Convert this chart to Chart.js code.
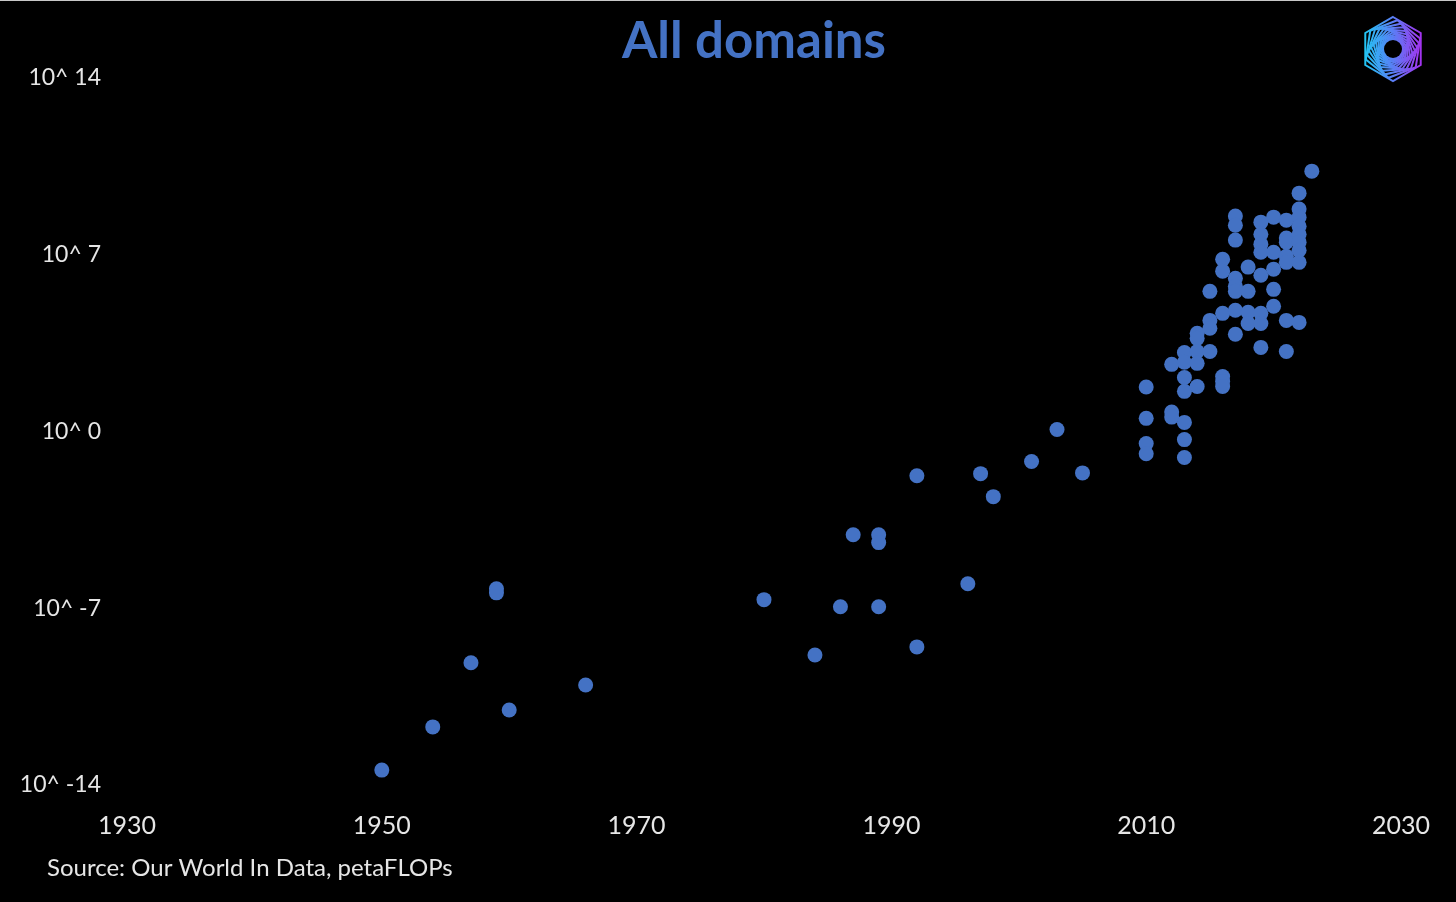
<!DOCTYPE html>
<html>
<head>
<meta charset="utf-8">
<script src="https://cdn.jsdelivr.net/npm/chart.js@4/dist/chart.umd.min.js"></script>
<style>
  html, body { margin: 0; padding: 0; background: #000; }
  #wrap { position: relative; width: 1456px; height: 902px; border-top: 1px solid #c8c8c8; box-sizing: border-box; }
  canvas { display: block; }
</style>
</head>
<body>
<div id="wrap"><canvas id="c" width="1456" height="901"></canvas></div>
<script>
// ---- data (year, log10 of petaFLOPs) ----
const years = [
  1950, 1954, 1957, 1959, 1959, 1960, 1966, 1980, 1984, 1986, 1987, 1989, 1989, 1989,
  1992, 1992, 1996, 1997, 1998, 2001, 2003, 2005,
  2010, 2010, 2010, 2010,
  2012, 2012, 2012,
  2013, 2013, 2013, 2013, 2013, 2013, 2013,
  2014, 2014, 2014, 2014, 2014,
  2015, 2015, 2015, 2015,
  2016, 2016, 2016, 2016, 2016, 2016,
  2017, 2017, 2017, 2017, 2017, 2017, 2017, 2017,
  2018, 2018, 2018, 2018,
  2019, 2019, 2019, 2019, 2019, 2019, 2019, 2019,
  2020, 2020, 2020, 2020, 2020,
  2021, 2021, 2021, 2021, 2021, 2021, 2021,
  2022, 2022, 2022, 2022, 2022, 2022, 2022, 2022, 2022,
  2023
];
const log10PetaFlops = [
  -13.41, -11.70, -9.16, -6.23, -6.39, -11.03, -10.04, -6.66, -8.85, -6.94, -4.09, -4.09, -4.40, -6.94,
  -1.75, -8.53, -6.03, -1.67, -2.58, -1.19, 0.08, -1.64,
  1.76, 0.52, -0.48, -0.88,
  2.66, 0.77, 0.57,
  3.13, 2.74, 2.14, 1.59, 0.36, -0.32, -1.03,
  3.89, 3.69, 3.17, 2.70, 1.78,
  5.55, 4.40, 4.09, 3.17,
  6.82, 6.35, 4.68, 2.18, 1.98, 1.78,
  8.53, 8.17, 7.58, 6.07, 5.75, 5.55, 4.80, 3.85,
  6.51, 5.55, 4.72, 4.28,
  8.29, 7.81, 7.42, 7.10, 6.19, 4.68, 4.28, 3.33,
  8.49, 7.10, 6.43, 5.63, 4.96,
  8.37, 7.66, 7.50, 6.94, 6.70, 4.40, 3.17,
  9.44, 8.81, 8.49, 8.13, 7.81, 7.50, 7.18, 6.70, 4.32,
  10.31
];
const xTickValues = [1930, 1950, 1970, 1990, 2010, 2030];
const yTickValues = [-14, -7, 0, 7, 14];
const yTickLabels = ['10^ -14', '10^ -7', '10^ 0', '10^ 7', '10^ 14'];
const titleText = 'All domains';
const sourceText = 'Source: Our World In Data, petaFLOPs';

const points = years.map((yr, i) => ({ x: yr, y: log10PetaFlops[i] }));

const FONT = 'Lato, "Open Sans", "Liberation Sans", sans-serif';
const TEXT = '#e6e6e6';
const BLUE = '#4472C4';

const decor = {
  id: 'decor',
  afterDraw(chart) {
    const ctx = chart.ctx;
    ctx.save();
    // title
    ctx.fillStyle = BLUE;
    ctx.font = 'bold 51px ' + FONT;
    ctx.textAlign = 'center';
    ctx.textBaseline = 'middle';
    ctx.fillText(titleText, 754, 41);
    // source
    ctx.fillStyle = TEXT;
    ctx.font = '24px ' + FONT;
    ctx.textAlign = 'left';
    ctx.fillText(sourceText, 47, 867);
    // logo
    const cx = 1393, cy = 48;
    const g = ctx.createLinearGradient(cx - 30, cy, cx + 30, cy);
    g.addColorStop(0, '#1fc9f3');
    g.addColorStop(0.5, '#5a7ef5');
    g.addColorStop(1, '#a82ef0');
    ctx.strokeStyle = g;
    ctx.lineWidth = 2;
    let R = 32;
    for (let k = 0; k < 14; k++) {
      const rot = k * 0.15;
      ctx.beginPath();
      for (let j = 0; j < 6; j++) {
        const a = -Math.PI / 2 + j * Math.PI / 3 + rot;
        const px = cx + R * Math.cos(a), py = cy + R * Math.sin(a);
        if (j === 0) ctx.moveTo(px, py); else ctx.lineTo(px, py);
      }
      ctx.closePath();
      ctx.stroke();
      R *= 0.91;
    }
    ctx.fillStyle = '#000';
    ctx.beginPath();
    ctx.arc(cx, cy, 9, 0, Math.PI * 2);
    ctx.fill();
    ctx.restore();
  }
};

new Chart(document.getElementById('c'), {
  type: 'scatter',
  data: {
    datasets: [{
      data: points,
      backgroundColor: BLUE,
      borderColor: BLUE,
      borderWidth: 0,
      pointRadius: 7.5,
      pointHoverRadius: 7.5
    }]
  },
  options: {
    responsive: false,
    animation: false,
    devicePixelRatio: 1,
    layout: { padding: { top: 77, right: 52, bottom: 0, left: 0 } },
    plugins: { legend: { display: false }, tooltip: { enabled: false }, title: { display: false } },
    scales: {
      x: {
        type: 'linear',
        min: 1930, max: 2030,
        afterBuildTicks(scale) { scale.ticks = xTickValues.map(v => ({ value: v })); },
        afterFit(scale) { scale.height = 117; },
        grid: { display: false, drawTicks: false },
        border: { display: false },
        ticks: { color: TEXT, font: { family: FONT, size: 25 }, padding: 26, maxRotation: 0, autoSkip: false,
                 callback: v => String(v) }
      },
      y: {
        type: 'linear',
        min: -14, max: 14,
        afterBuildTicks(scale) { scale.ticks = yTickValues.map(v => ({ value: v })); },
        afterFit(scale) { scale.width = 127; },
        grid: { display: false, drawTicks: false },
        border: { display: false },
        ticks: { color: TEXT, font: { family: FONT, size: 23 }, padding: 26, autoSkip: false,
                 callback: v => yTickLabels[yTickValues.indexOf(v)] }
      }
    }
  },
  plugins: [decor]
});
</script>
</body>
</html>
